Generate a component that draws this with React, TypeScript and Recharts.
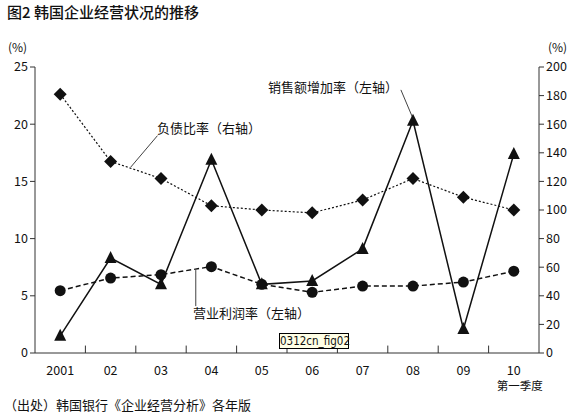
import React from 'react';
import { LineChart, Line, XAxis, YAxis, ReferenceLine } from 'recharts';

const categories = ['2001', '02', '03', '04', '05', '06', '07', '08', '09', '10'];
const salesGrowth = [1.5, 8.3, 6.0, 16.9, 6.0, 6.3, 9.1, 20.3, 2.1, 17.4];
const operatingMargin = [5.45, 6.55, 6.85, 7.55, 6.0, 5.3, 5.85, 5.85, 6.2, 7.15];
const debtRatio = [181, 134, 122, 103, 100, 98, 107, 122, 109, 100];
const leftTicks = [0, 5, 10, 15, 20, 25];
const rightTicks = [0, 20, 40, 60, 80, 100, 120, 140, 160, 180, 200];
const boundaryTicks = [1, 2, 3, 4, 5, 6, 7, 8, 9];
const centerTicks = categories.map((_, i) => i + 0.5);
const boundaryTickLength = 0.65; // in left-axis units

const data = categories.map((c, i) => ({
  x: i + 0.5,
  cat: c,
  sales: salesGrowth[i],
  margin: operatingMargin[i],
  debt: debtRatio[i],
}));

const FONT = '"Noto Sans CJK SC", "Noto Sans", sans-serif';
const INK = '#111';

const Diamond = (p: any) => {
  const { cx, cy, index } = p;
  const s = 6.5;
  return (
    <polygon
      key={`d${index}`}
      points={`${cx},${cy - s} ${cx + s},${cy} ${cx},${cy + s} ${cx - s},${cy}`}
      fill={INK}
    />
  );
};

const Triangle = (p: any) => {
  const { cx, cy, index } = p;
  return (
    <polygon
      key={`t${index}`}
      points={`${cx},${cy - 7} ${cx + 6},${cy + 5} ${cx - 6},${cy + 5}`}
      fill={INK}
    />
  );
};

const Circle = (p: any) => {
  const { cx, cy, index } = p;
  return <circle key={`c${index}`} cx={cx} cy={cy} r={5.5} fill={INK} />;
};

const CatTick = (props: any) => {
  const { x, y, payload } = props;
  const idx = Math.floor(payload.value);
  return (
    <g>
      <text x={x} y={y + 13.5} textAnchor="middle" fontSize={12.5} fill={INK} fontFamily={FONT}>
        {categories[idx]}
      </text>
      {idx === categories.length - 1 && (
        <text x={x + 6} y={y + 29} textAnchor="middle" fontSize={11.5} fill={INK} fontFamily={FONT}>
          第一季度
        </text>
      )}
    </g>
  );
};

const textStyle: React.CSSProperties = {
  position: 'absolute',
  fontFamily: FONT,
  color: INK,
  whiteSpace: 'nowrap',
  lineHeight: 1,
};

export default function App() {
  return (
    <div style={{ position: 'absolute', left: 0, top: 0, width: 571, height: 415, background: '#fff', overflow: 'hidden' }}>
      <LineChart
        width={571}
        height={415}
        data={data}
        margin={{ top: 67, right: 2, bottom: 32, left: 5 }}
      >
        <XAxis
          xAxisId="main"
          dataKey="x"
          type="number"
          domain={[0, 10]}
          ticks={centerTicks}
          tick={<CatTick />}
          tickLine={false}
          axisLine={{ stroke: '#333', strokeWidth: 1 }}
          height={30}
          interval={0}
        />
        <YAxis
          yAxisId="left"
          orientation="left"
          domain={[0, 25]}
          ticks={leftTicks}
          width={30}
          tickSize={5}
          tick={{ fontSize: 12.5, fill: INK, fontFamily: FONT }}
          tickLine={{ stroke: '#333' }}
          axisLine={{ stroke: '#333' }}
          interval={0}
        />
        <YAxis
          yAxisId="right"
          orientation="right"
          domain={[0, 200]}
          ticks={rightTicks}
          width={30}
          tickSize={5}
          tick={{ fontSize: 12.5, fill: INK, fontFamily: FONT, textAnchor: 'start' }}
          tickLine={{ stroke: '#333' }}
          axisLine={{ stroke: '#333' }}
          interval={0}
        />
        {boundaryTicks.map((b) => (
          <ReferenceLine
            key={`b${b}`}
            xAxisId="main"
            yAxisId="left"
            segment={[{ x: b, y: 0 }, { x: b, y: boundaryTickLength }]}
            stroke="#333"
            strokeWidth={1}
          />
        ))}
        <ReferenceLine
          xAxisId="main"
          yAxisId="left"
          segment={[{ x: 7.26, y: 23.0 }, { x: 7.49, y: 20.6 }]}
          stroke={INK}
          strokeWidth={0.8}
        />
        <ReferenceLine
          xAxisId="main"
          yAxisId="right"
          segment={[{ x: 2.43, y: 152 }, { x: 1.9, y: 130 }]}
          stroke={INK}
          strokeWidth={0.8}
        />
        <ReferenceLine
          xAxisId="main"
          yAxisId="left"
          segment={[{ x: 3.19, y: 7.25 }, { x: 3.19, y: 4.1 }]}
          stroke={INK}
          strokeWidth={0.8}
        />
        <Line
          xAxisId="main"
          yAxisId="right"
          dataKey="debt"
          type="linear"
          stroke={INK}
          strokeWidth={1.2}
          strokeDasharray="2 2"
          dot={(p: any) => <Diamond {...p} key={`dd${p.index}`} />}
          activeDot={false}
          isAnimationActive={false}
        />
        <Line
          xAxisId="main"
          yAxisId="left"
          dataKey="margin"
          type="linear"
          stroke={INK}
          strokeWidth={1.5}
          strokeDasharray="5 3"
          dot={(p: any) => <Circle {...p} key={`cc${p.index}`} />}
          activeDot={false}
          isAnimationActive={false}
        />
        <Line
          xAxisId="main"
          yAxisId="left"
          dataKey="sales"
          type="linear"
          stroke={INK}
          strokeWidth={1.5}
          dot={(p: any) => <Triangle {...p} key={`tt${p.index}`} />}
          activeDot={false}
          isAnimationActive={false}
        />
      </LineChart>

      <div style={{ ...textStyle, left: 7, top: 4, fontSize: 15, fontWeight: 500 }}>图2 韩国企业经营状况的推移</div>
      <div style={{ ...textStyle, left: 8, top: 41, fontSize: 12 }}>(%)</div>
      <div style={{ ...textStyle, left: 548, top: 41, fontSize: 12 }}>(%)</div>
      <div style={{ ...textStyle, left: 268, top: 80, fontSize: 13 }}>销售额增加率（左轴）</div>
      <div style={{ ...textStyle, left: 157, top: 121, fontSize: 13 }}>负债比率（右轴）</div>
      <div style={{ ...textStyle, left: 193, top: 306, fontSize: 13 }}>营业利润率（左轴）</div>
      <div
        style={{
          ...textStyle,
          left: 279,
          top: 333,
          width: 68,
          height: 14,
          border: '1px solid #000',
          background: '#ffffe6',
          fontSize: 11.5,
          fontFamily: '"Liberation Sans Narrow", "DejaVu Sans Condensed", sans-serif',
          textAlign: 'center',
          lineHeight: '14px',
        }}
      >
        0312cn_fig02
      </div>
      <div style={{ ...textStyle, left: 4, top: 398, fontSize: 13 }}>（出处）韩国银行《企业经营分析》各年版</div>
    </div>
  );
}
